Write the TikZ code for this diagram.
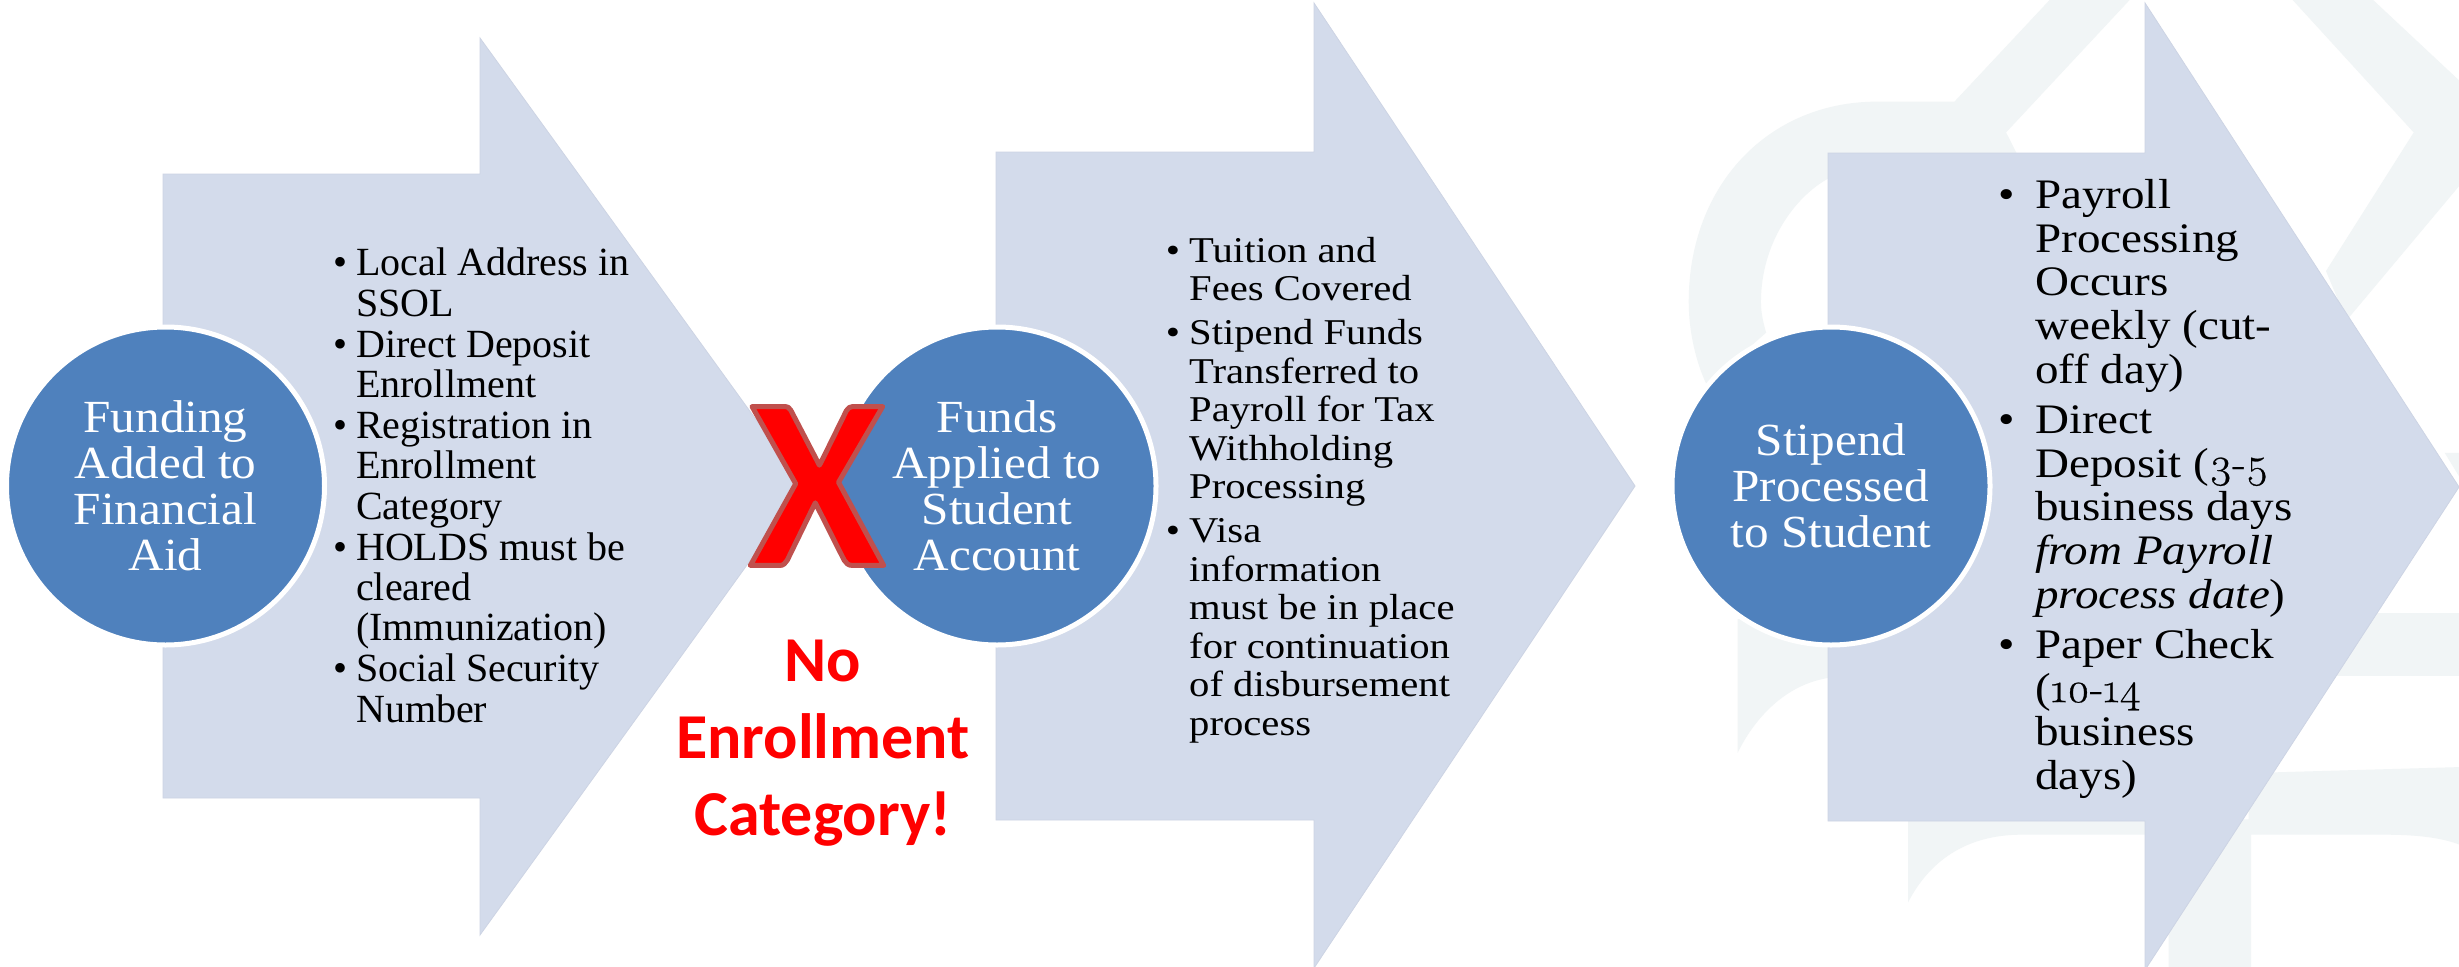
\documentclass[tikz,border=0pt]{standalone}
\usepackage{fontspec}
\setmainfont{Liberation Serif}
\newfontfamily\circfont[FakeStretch=1.07]{Liberation Serif}
\newfontfamily\leftfont[FakeStretch=1.0]{Liberation Serif}
\newfontfamily\midfont[FakeStretch=1.12]{Liberation Serif}
\newfontfamily\rightfont[FakeStretch=1.12]{Liberation Serif}
\newfontfamily\onum[Numbers=OldStyle,FakeStretch=1.05,FakeBold=0.6]{Latin Modern Roman}
\newfontfamily\redfont{Carlito}
\definecolor{arrowfill}{HTML}{D3DBEB}
\definecolor{circfill}{HTML}{4F81BD}
\definecolor{mark}{HTML}{F1F5F6}
\definecolor{xedge}{HTML}{C0504D}
\newcommand\bul[1]{\llap{\textbullet\hspace{#1}}}
\newcommand\gap[1]{\\[#1]}
\tikzset{
  arrowbody/.style={fill=arrowfill,draw=arrowfill!97!black,line width=0.8pt},
  roundel/.style={circle,fill=circfill,draw=white,line width=5pt,minimum size=318pt,inner sep=0pt,text=white,align=center},
  itemtext/.style={anchor=north west,align=left,inner sep=0pt,text=black},
  wm/.style={fill=mark,draw=none}
}
\begin{document}
\begin{tikzpicture}[x=1pt,y=-1pt]
\useasboundingbox (0,0) rectangle (2459,966);
\clip (0,0) rectangle (2459,966);
\fill[white] (0,0) rectangle (2459,966);
% watermark
\begin{scope}[xshift=1650pt,x=0.516pt,y=-0.616pt]
 \fill[wm] (780,-5) -- (590,165) -- (440,165) .. controls (230,165) and (75,300) .. (75,490) .. controls (75,540) and (90,590) .. (110,625) -- (225,540) .. controls (218,520) and (215,505) .. (215,490) .. controls (215,395) and (280,320) .. (345,290) -- (710,248) -- (690,215) -- (935,-5) -- cycle;
 \fill[wm] (1240,-5) -- (1480,215) -- (1310,440) -- (1350,520) -- (1580,290) -- (1580,140) -- (1395,-5) -- cycle;
 \fill[wm] (170,1005) -- (170,1222) .. controls (200,1170) and (260,1110) .. (350,1100) -- (350,1005) -- cycle;
 \fill[wm] (1160,995) -- (1580,995) -- (1580,1098) -- (1160,1098) -- cycle;
 \fill[wm] (1580,735) -- (1540,735) -- (1580,790) -- cycle;
 \fill[wm] (500,1330) -- (500,1465) .. controls (540,1400) and (610,1355) .. (720,1355) -- (1005,1355) -- (1005,1580) -- (1165,1580) -- (1165,1355) -- (1420,1355) .. controls (1490,1355) and (1540,1360) .. (1580,1375) -- (1580,1245) -- (1160,1255) -- (1160,1330) -- cycle;
\end{scope}
% arrows
\path[arrowbody] (163,174) -- (480,174) -- (480,38) -- (804,486) -- (480,935) -- (480,798) -- (163,798) -- cycle;
\path[arrowbody] (996,152) -- (1314,152) -- (1314,3) -- (1635,486) -- (1314,968) -- (1314,820) -- (996,820) -- cycle;
\path[arrowbody] (1828,153) -- (2145,153) -- (2145,3) -- (2459,487) -- (2145,970) -- (2145,821) -- (1828,821) -- cycle;
% circles
\node[roundel,font=\circfont\fontsize{46}{46}\selectfont] (c1) at (165.5,486) {Funding\\Added to\\Financial\\Aid};
\node[roundel,font=\circfont\fontsize{46}{46}\selectfont] (c2) at (997,486) {Funds\\Applied to\\Student\\Account};
\node[roundel,font=\circfont\fontsize{46}{46}\selectfont] (c3) at (1831,486) {Stipend\\Processed\\to Student};
% lists
\node[itemtext,font=\leftfont\fontsize{40}{40.2}\selectfont] (l1) at (356,248) {%
\bul{9pt}Local Address in\\SSOL\gap{1pt}
\bul{9pt}Direct Deposit\\Enrollment\gap{1pt}
\bul{9pt}Registration in\\Enrollment\\Category\gap{1pt}
\bul{9pt}HOLDS must be\\cleared\\(Immunization)\gap{1pt}
\bul{9pt}Social Security\\Number};
\node[itemtext,font=\midfont\fontsize{36.3}{38.6}\selectfont] (l2) at (1189,237) {%
\bul{9pt}Tuition and\\Fees Covered\gap{5pt}
\bul{9pt}Stipend Funds\\Transferred to\\Payroll for Tax\\Withholding\\Processing\gap{5pt}
\bul{9pt}Visa\\information\\must be in place\\for continuation\\of disbursement\\process};
\node[itemtext,font=\rightfont\fontsize{42}{43.8}\selectfont] (l3) at (2035,179) {%
\bul{20pt}Payroll\\Processing\\Occurs\\weekly (cut-\\off day)\gap{6pt}
\bul{20pt}Direct\\Deposit ({\onum 3-5}\\business days\\\textit{from Payroll}\\\textit{process date})\gap{6pt}
\bul{20pt}Paper Check\\({\onum 10-14}\\business\\days)};
% red X
\node[inner sep=0pt,text=red,font=\redfont\bfseries\fontsize{245}{245}\selectfont] (x) at (817,486) {\special{pdf:code q 1 j 1 J 2 Tr 5 w 0.753 0.314 0.302 RG}X\special{pdf:code Q}};
% red label
\node[inner sep=0pt,text=red,align=center,font=\redfont\bfseries\fontsize{64}{77}\selectfont] (lab) at (823,743) {No\\Enrollment\\Category!};
\end{tikzpicture}
\end{document}
